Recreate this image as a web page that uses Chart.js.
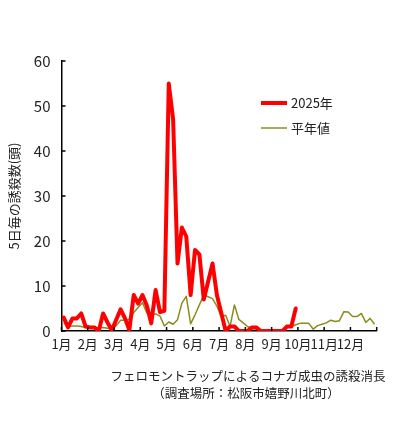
<!DOCTYPE html>
<html>
<head>
<meta charset="utf-8">
<script src="https://cdn.jsdelivr.net/npm/chart.js@4/dist/chart.umd.min.js"></script>
<style>
html,body{margin:0;padding:0;background:#fff;}
canvas{display:block;}
</style>
</head>
<body>
<canvas id="c" width="396" height="424"></canvas>
<script>
// Tick labels (one per month, placed at the start of each month: 6 five-day periods per month)
const MONTHS = ['1月','2月','3月','4月','5月','6月','7月','8月','9月','10月','11月','12月',''];
// 5-day catch counts, 2025 (Jan 1st period .. end of September)
const Y2025 = [3,0.8,2.8,2.8,3.9,1,0.8,0.8,0,3.9,
               1.9,0.2,2.5,4.8,2.8,0.2,8,6.1,8,5.6,
               1.7,9.1,4.2,4.5,55,47,15,23,21,8,
               18,17,7,11,15,8,4,0,1,1,
               0,0,0,0.8,0.8,0,0,0,0,0,
               0,1,1,5];
// 5-day catch counts, average year (72 periods)
const NORMAL = [1.8,1.0,1.1,1.1,1.0,0.8,0.8,0.8,0.7,0.8,
                0.6,0.4,1.2,2.4,2.4,2.6,4.1,5.2,6.3,4.0,
                3.8,3.8,3.3,1.1,2.0,1.5,2.5,6.2,7.7,1.6,
                3.6,5.8,8.0,7.6,7.2,5.5,3.2,3.5,1.0,5.8,
                2.6,1.8,1.0,0.5,0.5,0.3,0.2,0.1,0,0,
                0.2,0.8,1.0,1.4,1.7,1.7,1.7,0.4,1.2,1.5,
                1.8,2.4,2.1,2.3,4.3,4.2,3.2,3.2,3.9,1.9,
                2.8,1.5];
const SERIES_NAMES = ['2025年','平年値'];
const Y_TITLE = '5日毎の誘殺数(頭)';
const CAPTION = ['フェロモントラップによるコナガ成虫の誘殺消長','（調査場所：松阪市嬉野川北町）'];

const FONT = "'Noto Sans CJK JP', 'Noto Sans', sans-serif";
const toPts = arr => arr.map((v,i)=>({x:i+0.5,y:v}));

const tickMarks = {
  id:'tickMarks',
  afterDraw(chart){
    const {ctx, scales:{x,y}} = chart;
    ctx.save();
    ctx.strokeStyle='#000'; ctx.lineWidth=1.5;
    ctx.beginPath();
    x.ticks.forEach(t=>{const px=x.getPixelForValue(t.value); ctx.moveTo(px,x.top); ctx.lineTo(px,x.top-4);});
    y.ticks.forEach(t=>{const py=y.getPixelForValue(t.value); ctx.moveTo(y.right,py); ctx.lineTo(y.right+4,py);});
    ctx.stroke();
    ctx.restore();
  }
};

const legendCaption = {
  id:'legendCaption',
  afterDraw(chart){
    const ctx = chart.ctx;
    ctx.save();
    ctx.font = "13px " + FONT;
    ctx.fillStyle = '#222';
    ctx.textBaseline = 'middle';
    const rows = [103, 128];
    chart.data.datasets.forEach((ds,i)=>{
      const yy = rows[i];
      ctx.strokeStyle = ds.borderColor;
      ctx.lineWidth = ds.borderWidth;
      ctx.lineCap = 'butt';
      ctx.beginPath(); ctx.moveTo(261,yy); ctx.lineTo(287,yy); ctx.stroke();
      ctx.textAlign = 'left';
      ctx.fillText(ds.label, 291, yy);
    });
    ctx.font = "12.5px " + FONT;
    ctx.textAlign = 'center';
    ctx.fillText(CAPTION[0], 248, 376);
    ctx.fillText(CAPTION[1], 246, 393);
    ctx.restore();
  }
};

new Chart(document.getElementById('c'), {
  type:'line',
  data:{
    datasets:[
      {label:SERIES_NAMES[0], data:toPts(Y2025), borderColor:'#ff0000', borderWidth:4, pointRadius:0, tension:0, borderJoinStyle:'round', borderCapStyle:'round', fill:false},
      {label:SERIES_NAMES[1], data:toPts(NORMAL), borderColor:'#8c8c1e', borderWidth:1.5, pointRadius:0, tension:0, borderJoinStyle:'round', fill:false}
    ]
  },
  plugins:[tickMarks, legendCaption],
  options:{
    responsive:false,
    animation:false,
    layout:{padding:{left:0, top:61, right:19.3, bottom:63}},
    plugins:{legend:{display:false}, tooltip:{enabled:false}, title:{display:false}},
    scales:{
      x:{
        type:'linear', min:0, max:72,
        afterFit(s){ s.height = 30; },
        grid:{display:false, drawTicks:false},
        border:{display:true, color:'#000', width:1.5},
        ticks:{stepSize:6, autoSkip:false, maxRotation:0, padding:5, color:'#222',
               font:{family:FONT, size:13},
               callback:(v)=>MONTHS[Math.round(v/6)]}
      },
      y:{
        min:0, max:60,
        afterFit(s){ s.width = 61.5; },
        grid:{display:false, drawTicks:false},
        border:{display:true, color:'#000', width:1.5},
        ticks:{stepSize:10, padding:11, color:'#222', font:{family:FONT, size:15}},
        title:{display:true, text:Y_TITLE, color:'#222', font:{family:FONT, size:13}, padding:{top:6, bottom:0}}
      }
    }
  }
});
</script>
</body>
</html>
